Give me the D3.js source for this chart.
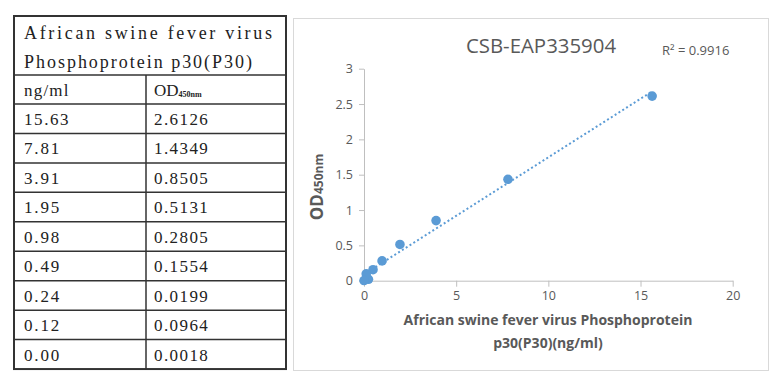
<!DOCTYPE html>
<html>
<head>
<meta charset="utf-8">
<script src="https://cdn.jsdelivr.net/npm/d3@7"></script>
<style>
  body { margin: 0; background: #fff; }
  svg { display: block; }
</style>
</head>
<body>
<svg id="chart"></svg>
<script>
// Standard curve data (ng/ml vs OD450nm)
const concentrations = [15.63, 7.81, 3.91, 1.95, 0.98, 0.49, 0.24, 0.12, 0.00];
const odValues = [2.6126, 1.4349, 0.8505, 0.5131, 0.2805, 0.1554, 0.0199, 0.0964, 0.0018];
const titleLines = ['African swine fever virus', 'Phosphoprotein p30(P30)'];
const xTicks = [0, 5, 10, 15, 20];
const yTicks = [0, 0.5, 1, 1.5, 2, 2.5, 3];
const chartTitle = 'CSB-EAP335904';
const rSquared = '0.9916';
const xLabelLines = ['African swine fever virus Phosphoprotein', 'p30(P30)(ng/ml)'];

const svgWidth = 783;
const svgHeight = 388;

const svg = d3.select('#chart')
  .attr('width', svgWidth)
  .attr('height', svgHeight);

// ---- Table on the left ----
const table = { left: 14, right: 286, top: 16, split: 146, titleBottom: 75, headerBottom: 104, rowH: 29.45 };
const tableFont = '"Liberation Serif", "DejaVu Serif", serif';
const tableColor = '#222';
const tableBottom = table.headerBottom + table.rowH * concentrations.length;

// half-width cells like the original CJK font
const cellText = (sel, charW) => sel
  .attr('textLength', function () { return this.textContent.length * charW - 2; })
  .attr('lengthAdjust', 'spacing');

const tg = svg.append('g');

// title text
tg.selectAll('.ttl')
  .data(titleLines)
  .enter()
  .append('text')
  .attr('x', table.left + 10)
  .attr('y', (d, i) => 39 + i * 29)
  .attr('font-family', tableFont)
  .attr('font-size', 18)
  .attr('fill', tableColor)
  .text((d) => d)
  .call(cellText, 10);

// header row
tg.append('text')
  .attr('x', table.left + 10)
  .attr('y', table.headerBottom - 8)
  .attr('font-family', tableFont)
  .attr('font-size', 17)
  .attr('fill', tableColor)
  .text('ng/ml')
  .call(cellText, 9.3);

const odHead = tg.append('text')
  .attr('x', table.split + 8)
  .attr('y', table.headerBottom - 8)
  .attr('font-family', tableFont)
  .attr('font-size', 17)
  .attr('fill', tableColor);
odHead.append('tspan').text('OD');
odHead.append('tspan')
  .attr('font-size', 8)
  .attr('font-weight', 'bold')
  .attr('dy', 1)
  .text('450nm');

// data rows
const rows = tg.selectAll('.row')
  .data(concentrations.map((c, i) => ({ c, od: odValues[i] })))
  .enter()
  .append('g')
  .attr('transform', (d, i) => `translate(0,${table.headerBottom + i * table.rowH})`);

rows.append('text')
  .attr('x', table.left + 10)
  .attr('y', 21)
  .attr('font-family', tableFont)
  .attr('font-size', 17)
  .attr('fill', tableColor)
  .text((d) => d.c.toFixed(2))
  .call(cellText, 9.3);

rows.append('text')
  .attr('x', table.split + 8)
  .attr('y', 21)
  .attr('font-family', tableFont)
  .attr('font-size', 17)
  .attr('fill', tableColor)
  .text((d) => d.od.toFixed(4))
  .call(cellText, 9.3);

// grid lines
const hLines = [table.titleBottom, table.headerBottom];
concentrations.forEach((c, i) => {
  if (i < concentrations.length - 1) hLines.push(table.headerBottom + (i + 1) * table.rowH);
});
tg.selectAll('.hl')
  .data(hLines)
  .enter()
  .append('line')
  .attr('x1', table.left)
  .attr('x2', table.right)
  .attr('y1', (d) => d)
  .attr('y2', (d) => d)
  .attr('stroke', '#333')
  .attr('stroke-width', 1.5);

tg.append('line')
  .attr('x1', table.split)
  .attr('x2', table.split)
  .attr('y1', table.titleBottom)
  .attr('y2', tableBottom)
  .attr('stroke', '#333')
  .attr('stroke-width', 1.5);

tg.append('rect')
  .attr('x', table.left)
  .attr('y', table.top)
  .attr('width', table.right - table.left)
  .attr('height', tableBottom - table.top)
  .attr('fill', 'none')
  .attr('stroke', '#333')
  .attr('stroke-width', 2);

// ---- Scatter chart on the right ----
svg.append('rect')
  .attr('x', 293.5)
  .attr('y', 18.5)
  .attr('width', 475)
  .attr('height', 352)
  .attr('fill', '#fff')
  .attr('stroke', '#d9d9d9')
  .attr('stroke-width', 1);

const plot = { left: 364, right: 732.7, top: 68.7, bottom: 280.7 };
const labelFont = '"Open Sans", "Noto Sans", sans-serif';
const textColor = '#595959';
const blue = '#5b9bd5';

const xScale = d3.scaleLinear().domain([0, 20]).range([plot.left, plot.right]);
const yScale = d3.scaleLinear().domain([0, 3]).range([plot.bottom, plot.top]);

const xAxis = svg.append('g')
  .attr('transform', `translate(0,${plot.bottom})`)
  .call(d3.axisBottom(xScale).tickValues(xTicks).tickSize(6).tickSizeOuter(0).tickPadding(4));

const yAxis = svg.append('g')
  .attr('transform', `translate(${plot.left},0)`)
  .call(d3.axisLeft(yScale).tickValues(yTicks).tickFormat((d) => String(d))
    .tickSize(5).tickSizeOuter(0).tickPadding(6));

[xAxis, yAxis].forEach((ax) => {
  ax.select('.domain').attr('stroke', '#bfbfbf');
  ax.selectAll('.tick line').attr('stroke', '#bfbfbf');
  ax.selectAll('.tick text')
    .attr('fill', textColor)
    .attr('font-family', labelFont)
    .attr('font-size', 12.5);
});

// linear trendline (least squares)
const mx = d3.mean(concentrations);
const my = d3.mean(odValues);
let sxy = 0;
let sxx = 0;
concentrations.forEach((x, i) => {
  sxy += (x - mx) * (odValues[i] - my);
  sxx += (x - mx) * (x - mx);
});
const slope = sxy / sxx;
const intercept = my - slope * mx;
const xExtent = d3.extent(concentrations);

svg.append('line')
  .attr('x1', xScale(xExtent[0]))
  .attr('y1', yScale(intercept + slope * xExtent[0]))
  .attr('x2', xScale(xExtent[1]))
  .attr('y2', yScale(intercept + slope * xExtent[1]))
  .attr('stroke', blue)
  .attr('stroke-width', 2)
  .attr('stroke-dasharray', '2,2.5');

// points
svg.selectAll('.pt')
  .data(concentrations.map((c, i) => ({ c, od: odValues[i] })))
  .enter()
  .append('circle')
  .attr('cx', (d) => xScale(d.c))
  .attr('cy', (d) => yScale(d.od))
  .attr('r', 4.8)
  .attr('fill', blue);

// title and R²
svg.append('text')
  .attr('x', 541)
  .attr('y', 53)
  .attr('text-anchor', 'middle')
  .attr('font-family', labelFont)
  .attr('font-size', 20.4)
  .attr('fill', textColor)
  .text(chartTitle);

svg.append('text')
  .attr('x', 662)
  .attr('y', 55)
  .attr('font-family', labelFont)
  .attr('font-size', 13)
  .attr('fill', textColor)
  .text(`R² = ${rSquared}`);

// y axis label
const yLab = svg.append('text')
  .attr('transform', 'translate(323,187) rotate(-90)')
  .attr('text-anchor', 'middle')
  .attr('font-family', labelFont)
  .attr('font-weight', 'bold')
  .attr('fill', textColor);
yLab.append('tspan').attr('font-size', 17).text('OD');
yLab.append('tspan').attr('font-size', 12).text('450nm');

// x axis label
svg.selectAll('.xl')
  .data(xLabelLines)
  .enter()
  .append('text')
  .attr('x', 548)
  .attr('y', (d, i) => 325 + i * 23)
  .attr('text-anchor', 'middle')
  .attr('font-family', labelFont)
  .attr('font-weight', 'bold')
  .attr('font-size', 14)
  .attr('fill', textColor)
  .text((d) => d);
</script>
</body>
</html>
